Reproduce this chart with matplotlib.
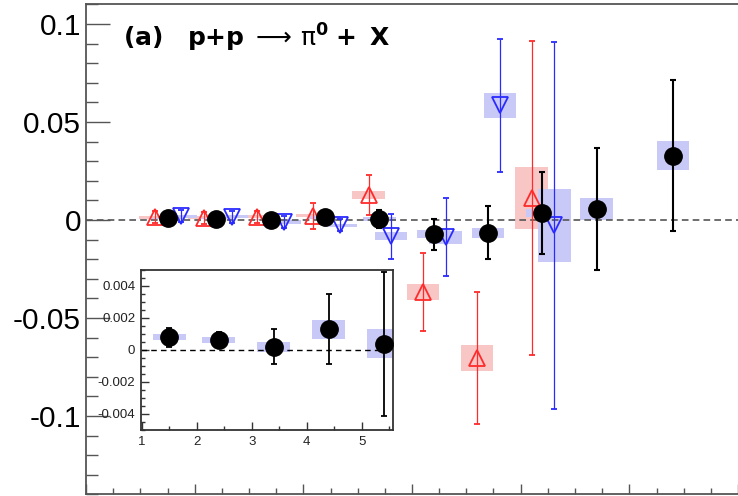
import matplotlib
matplotlib.use('Agg')
import matplotlib.pyplot as plt
from matplotlib.ticker import MultipleLocator, FuncFormatter

plt.rcParams['font.family'] = ['Liberation Sans', 'DejaVu Sans']
plt.rcParams['mathtext.fontset'] = 'dejavusans'

# black points (filled circles)
blk_x = [1.5, 2.4, 3.4, 4.4, 5.4, 6.4, 7.4, 8.4, 9.4, 10.8]
blk_y = [0.0008, 0.00063, 0.0002, 0.0013, 0.0004, -0.0073, -0.0065, 0.0034, 0.0056, 0.0328]
blk_err = [0.0006, 0.0005, 0.0011, 0.0022, 0.0045, 0.0079, 0.0135, 0.021, 0.0313, 0.0385]
blk_sys = [0.0002, 0.0002, 0.0003, 0.0006, 0.0009, 0.002, 0.0025, 0.002, 0.0055, 0.0075]

# red points (open up triangles)
red_x = [1.27, 2.17, 3.15, 4.17, 5.2, 6.2, 7.2, 8.2]
red_y = [0.0014, 0.0011, 0.0017, 0.0021, 0.0128, -0.0368, -0.0704, 0.0112]
red_err = [0.003, 0.003, 0.003, 0.0066, 0.0104, 0.0198, 0.0337, 0.080]
red_sys = [0.0008, 0.0008, 0.0008, 0.0008, 0.002, 0.004, 0.0068, 0.016]

# blue points (open down triangles)
blu_x = [1.74, 2.68, 3.65, 4.68, 5.61, 6.62, 7.62, 8.62]
blu_y = [0.0019, 0.0017, -0.001, -0.0026, -0.0082, -0.0088, 0.0585, -0.0028]
blu_err = [0.003, 0.003, 0.003, 0.003, 0.0115, 0.0198, 0.0339, 0.0934]
blu_sys = [0.0008, 0.0008, 0.0008, 0.0008, 0.0022, 0.0033, 0.0065, 0.0185]

BOXW = 0.6
RED = '#ff2a2a'
BLUE = '#2a2aff'
RED_BOX = '#f9c6c6'
BLUE_BOX = '#c9c9f7'
SPINE = '#555555'

fig = plt.figure(figsize=(7.38, 4.96), dpi=100)
ax = fig.add_axes([86 / 738, 1 - 494.4 / 496, 652 / 738, 490 / 496])

def boxes(a, xs, ys, ss, color):
    a.bar(xs, [2 * s for s in ss], bottom=[y - s for y, s in zip(ys, ss)],
          width=BOXW, color=color, linewidth=0, zorder=1)

boxes(ax, red_x, red_y, red_sys, RED_BOX)
boxes(ax, blu_x, blu_y, blu_sys, BLUE_BOX)
boxes(ax, blk_x, blk_y, blk_sys, BLUE_BOX)

ax.axhline(0, color=SPINE, lw=1.2, ls=(0, (4, 2.5)), zorder=2)

ax.errorbar(red_x, red_y, yerr=red_err, fmt='^', ms=12, mfc='none', mec=RED, mew=1.3,
            ecolor=RED, elinewidth=0.9, capsize=2, capthick=0.9, zorder=3)
ax.errorbar(blu_x, blu_y, yerr=blu_err, fmt='v', ms=12, mfc='none', mec=BLUE, mew=1.3,
            ecolor=BLUE, elinewidth=0.9, capsize=2, capthick=0.9, zorder=3)
ax.errorbar(blk_x, blk_y, yerr=blk_err, fmt='o', ms=12.5, color='black',
            elinewidth=1.5, capsize=2.5, capthick=1.5, zorder=4)

ax.set_xlim(0, 12)
ax.set_ylim(-0.14, 0.11)
ax.xaxis.set_major_locator(MultipleLocator(2))
ax.xaxis.set_minor_locator(MultipleLocator(0.5))
ax.yaxis.set_major_locator(MultipleLocator(0.05))
ax.yaxis.set_minor_locator(MultipleLocator(0.01))
ax.yaxis.set_major_formatter(FuncFormatter(lambda v, p: '%g' % round(v, 4)))
ax.tick_params(axis='y', which='major', direction='in', length=17, width=1, colors=SPINE,
               labelcolor='black', labelsize=21.5, pad=3.6)
ax.tick_params(axis='y', which='minor', direction='in', length=8.6, width=1, colors=SPINE)
ax.tick_params(axis='x', which='major', direction='in', length=7.5, width=1, colors=SPINE,
               labelbottom=False)
ax.tick_params(axis='x', which='minor', direction='in', length=4, width=1, colors=SPINE)
ax.spines['right'].set_visible(False)
for s in ['left', 'top', 'bottom']:
    ax.spines[s].set_color(SPINE)
    ax.spines[s].set_linewidth(1.3)

ax.text(0.0567, 0.913,
        r'$\mathbf{(a)}\quad\mathbf{p{+}p}\;\longrightarrow\,\mathrm{\pi}^{\mathbf{0}}\;\mathbf{+}\;\;\mathbf{X}$',
        transform=ax.transAxes, fontsize=18, va='baseline', ha='left')

# inset
axi = fig.add_axes([140.7 / 738, 1 - 430 / 496, 252.3 / 738, 160 / 496])
axi.set_facecolor('white')
ni = 5
boxes(axi, blk_x[:ni], blk_y[:ni], blk_sys[:ni], BLUE_BOX)
axi.axhline(0, color='black', lw=1.0, ls=(0, (4, 3)), zorder=2)
axi.errorbar(blk_x[:ni], blk_y[:ni], yerr=blk_err[:ni], fmt='o', ms=12.5, color='black',
             elinewidth=1.3, capsize=2, capthick=1.3, zorder=4)
axi.set_xlim(0.98, 5.57)
axi.set_ylim(-0.005, 0.005)
axi.xaxis.set_major_locator(MultipleLocator(1))
axi.xaxis.set_minor_locator(MultipleLocator(0.5))
axi.yaxis.set_major_locator(MultipleLocator(0.002))
axi.yaxis.set_minor_locator(MultipleLocator(0.0005))
axi.yaxis.set_major_formatter(FuncFormatter(lambda v, p: '%g' % round(v, 5)))
axi.tick_params(which='major', direction='in', length=5.8, width=1, labelsize=9.5, pad=4,
                colors='#333333', labelcolor='#222222')
axi.tick_params(which='minor', direction='in', length=3.2, width=1, colors='#333333')
for s in axi.spines.values():
    s.set_color('#333333')
    s.set_linewidth(1.3)

fig.savefig('out.png', dpi=100)
